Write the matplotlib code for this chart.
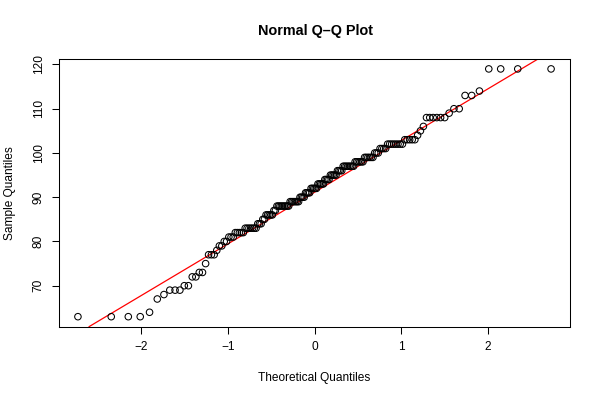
import numpy as np
import matplotlib
matplotlib.use('agg')
import matplotlib.pyplot as plt
from statistics import NormalDist

# sorted sample values, as (value, how many times it appears)
sample_levels = [63, 64, 67, 68, 69, 70, 72, 73, 75, 77, 78, 79, 80, 81, 82, 83,
                 84, 85, 86, 87, 88, 89, 90, 91, 92, 93, 94, 95, 96, 97, 98, 99,
                 100, 101, 102, 103, 104, 105, 106, 108, 109, 110, 113, 114, 119]
sample_counts = [4, 1, 1, 1, 3, 2, 2, 2, 1, 3, 1, 2, 2, 3, 5, 7,
                 3, 2, 5, 2, 9, 7, 4, 4, 5, 5, 4, 5, 4, 8, 6, 6,
                 3, 4, 8, 5, 1, 1, 1, 6, 1, 2, 2, 1, 4]
x_ticks = [-2, -1, 0, 1, 2]
y_ticks = [70, 80, 90, 100, 110, 120]

sample = np.repeat(sample_levels, sample_counts)
n = len(sample)

# theoretical quantiles the way qqnorm does it (ppoints, a = 0.5)
nd = NormalDist()
probs = (np.arange(1, n + 1) - 0.5) / n
theo = np.array([nd.inv_cdf(p) for p in probs])

# qqline: through the first and third quartiles
q_s = np.quantile(sample, [0.25, 0.75])
q_t = np.array([nd.inv_cdf(0.25), nd.inv_cdf(0.75)])
slope = (q_s[1] - q_s[0]) / (q_t[1] - q_t[0])
intercept = q_s[0] - slope * q_t[0]

plt.rcParams['font.family'] = ['Liberation Sans', 'DejaVu Sans']

fig = plt.figure(figsize=(6, 4), dpi=100)
ax = fig.add_axes([59 / 600, 73.4 / 400, 511 / 600, 267.6 / 400])

ax.scatter(theo, sample, s=22, facecolors='none', edgecolors='black', linewidths=0.75, zorder=3)
ax.axline((0, intercept), slope=slope, color='red', lw=0.9, zorder=2)

# R pads the data range by 4% on each side
xr = theo.max() - theo.min()
yr = sample.max() - sample.min()
ax.set_xlim(theo.min() - 0.04 * xr, theo.max() + 0.04 * xr)
ax.set_ylim(sample.min() - 0.04 * yr, sample.max() + 0.04 * yr)

ax.set_xticks(x_ticks)
ax.set_xticklabels(['\u22122', '\u22121', '0', '1', '2'])
ax.set_yticks(y_ticks)
ax.set_yticklabels([str(v) for v in y_ticks], rotation=90, va='center')
ax.tick_params(direction='out', length=5.2, width=0.75, labelsize=8.6, pad=5)
for sp in ax.spines.values():
    sp.set_linewidth(0.75)

ax.set_xlabel('Theoretical Quantiles', fontsize=8.6, labelpad=14)
ax.set_ylabel('Sample Quantiles', fontsize=8.6, labelpad=12)
fig.text(315 / 600, 1 - 31 / 400, 'Normal Q\u2013Q Plot', ha='center', va='center',
         fontsize=10.4, fontweight='bold')

fig.savefig('out.png', dpi=100)
